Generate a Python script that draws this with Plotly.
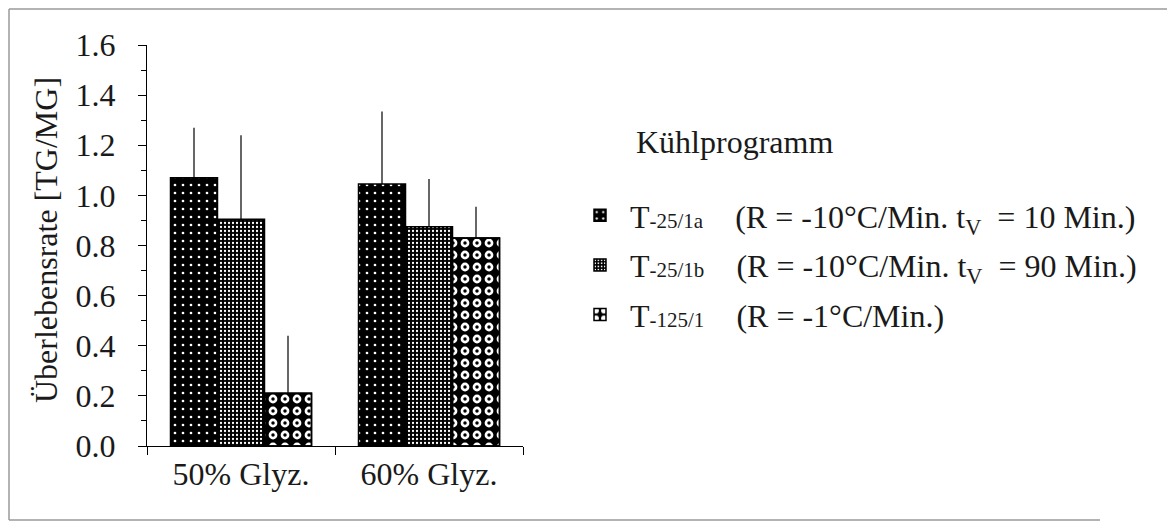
import plotly.graph_objects as go

# ---- data ----
categories = ["50% Glyz.", "60% Glyz."]
series_names = [
    "T<span style='font-size:21px'>-25/1a</span>\u00a0\u00a0\u00a0\u00a0(R = -10°C/Min. t<sub>V</sub>\u00a0 = 10 Min.)",
    "T<span style='font-size:21px'>-25/1b</span>\u00a0\u00a0\u00a0\u00a0(R = -10°C/Min. t<sub>V</sub>\u00a0 = 90 Min.)",
    "T<span style='font-size:21px'>-125/1</span>\u00a0\u00a0\u00a0\u00a0(R = -1°C/Min.)",
]
vals_a = [1.07, 1.045]
err_a = [0.20, 0.29]
vals_b = [0.905, 0.875]
err_b = [0.335, 0.19]
vals_c = [0.21, 0.83]
err_c = [0.23, 0.125]
y_ticks = [0.0, 0.2, 0.4, 0.6, 0.8, 1.0, 1.2, 1.4, 1.6]

# ---- layout geometry (pixels, reference/screen coordinates) ----
OFF = 8  # page body margin
W, H = 1175 - OFF, 525 - OFF  # figure fits the window exactly
L, R, T, B = 147, 523, 45, 446
def px(x):
    return (x - L) / (R - L)
def py(y):
    return (B - y) / (B - T)

FONT = "Liberation Serif, Times New Roman, serif"
TXT = "#1a1a1a"
FS = 32

def err(arr):
    return dict(type="data", symmetric=False, array=arr, arrayminus=[0] * len(arr),
                width=0, thickness=1.2, color="black")

outline = dict(color="black", width=1.5)

fig = go.Figure()
fig.add_trace(go.Bar(
    x=categories, y=vals_a, name=series_names[0], offsetgroup="a", legendgroup="a",
    error_y=err(err_a),
    marker=dict(color="black", line=outline,
                pattern=dict(shape=".", fillmode="overlay", fgcolor="white", fgopacity=1,
                             size=8, solidity=0.09)),
))
fig.add_trace(go.Bar(
    x=categories, y=vals_b, name=series_names[1], offsetgroup="b", legendgroup="b",
    error_y=err(err_b),
    marker=dict(color="black", line=outline,
                pattern=dict(shape=".", fillmode="overlay", fgcolor="white", fgopacity=1,
                             size=4, solidity=0.25)),
))
fig.add_trace(go.Bar(
    x=categories, y=vals_c, name=series_names[2], offsetgroup="c", legendgroup="c",
    error_y=err(err_c),
    marker=dict(color="black", line=outline,
                pattern=dict(shape=".", fillmode="overlay", fgcolor="white", fgopacity=1,
                             size=12, solidity=0.42)),
))
# centre dots of the ring pattern (same bars, overlaid)
fig.add_trace(go.Bar(
    x=categories, y=vals_c, name=series_names[2], offsetgroup="c", legendgroup="c",
    showlegend=False, hoverinfo="skip",
    marker=dict(color="rgba(0,0,0,0)", line=outline,
                pattern=dict(shape=".", fillmode="overlay", fgcolor="black", fgopacity=1,
                             bgcolor="rgba(0,0,0,0)", size=12, solidity=0.065)),
))

frame = dict(color="#9a9a9a", width=1.5)

fig.update_layout(
    width=W, height=H,
    margin=dict(l=L - OFF, r=W - (R - OFF), t=T - OFF, b=H - (B - OFF), pad=0),
    paper_bgcolor="white", plot_bgcolor="white",
    font=dict(family=FONT, size=FS, color=TXT),
    barmode="group", bargap=0.25, bargroupgap=0,
    showlegend=True,
    legend=dict(x=px(570), y=py(188), xanchor="left", yanchor="top",
                font=dict(family=FONT, size=FS, color=TXT),
                traceorder="grouped", tracegroupgap=5,
                itemwidth=50, bgcolor="rgba(0,0,0,0)"),
    xaxis=dict(type="category", range=[-0.5, 1.5], showline=True, linecolor="black",
               linewidth=1, ticks="outside", tickson="boundaries", ticklen=8,
               tickcolor="black", showgrid=False, zeroline=False,
               tickfont=dict(family=FONT, size=FS, color=TXT)),
    yaxis=dict(range=[0, 1.6], tickvals=y_ticks, tickformat=".1f", showline=True,
               linecolor="black", linewidth=1, ticks="outside", ticklen=8,
               tickcolor="black", showgrid=False, zeroline=False,
               ticklabelstandoff=16,
               minor=dict(dtick=0.1, ticks="outside", ticklen=5, tickcolor="black"),
               tickfont=dict(family=FONT, size=FS, color=TXT)),
    annotations=[
        dict(text="Überlebensrate [TG/MG]", x=px(46), y=py(240), xref="paper", yref="paper",
             textangle=-90, showarrow=False, xanchor="center", yanchor="middle",
             font=dict(family=FONT, size=FS, color=TXT)),
        dict(text="Kühlprogramm", x=px(634), y=py(142), xref="paper", yref="paper",
             showarrow=False, xanchor="left", yanchor="middle",
             font=dict(family=FONT, size=FS, color=TXT)),
    ],
    shapes=[
        dict(type="line", xref="paper", yref="paper", x0=px(9), x1=px(1174),
             y0=py(9), y1=py(9), line=frame, layer="below"),
        dict(type="line", xref="paper", yref="paper", x0=px(9), x1=px(9),
             y0=py(9), y1=py(520), line=frame, layer="below"),
        dict(type="line", xref="paper", yref="paper", x0=px(9), x1=px(1100),
             y0=py(520), y1=py(520), line=frame, layer="below"),
    ],
)

fig.write_html("out.html")
